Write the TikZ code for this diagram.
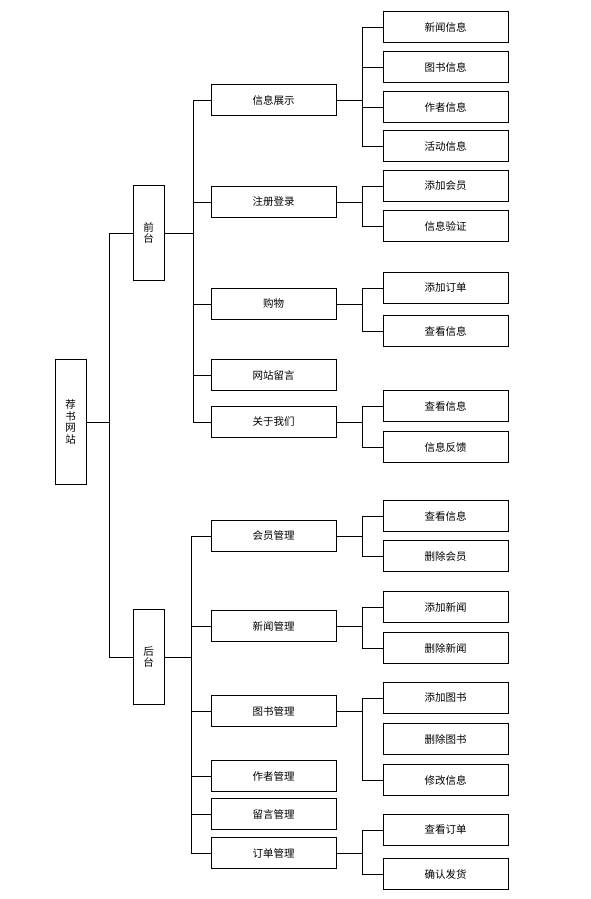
\documentclass[tikz,border=0pt]{standalone}
\usepackage{fontspec}
\newfontfamily\cjk{Noto Sans CJK SC}
\usetikzlibrary{positioning}

\begin{document}
\begin{tikzpicture}[x=1pt, y=-1pt, line width=0.8pt,
                font=\cjk\fontsize{10.5}{14}\selectfont,
                tall node/.style={rectangle,draw,inner sep=0pt,minimum width=31pt,align=center,
                                  font=\cjk\fontsize{10.5}{11.5}\selectfont},
                mid node/.style={rectangle,draw,inner sep=0pt,minimum width=125pt,minimum height=31pt},
                leaf node/.style={rectangle,draw,inner sep=0pt,minimum width=125pt,minimum height=31pt}]

      \useasboundingbox (0,0) rectangle (591,899);

      \node[tall node, minimum height=125pt] (root) at (70.5,422) {荐\\书\\网\\站};
      \node[tall node, minimum height=95pt] (qt) at (148.5,233) {前\\台};
      \node[tall node, minimum height=95pt] (ht) at (148.5,657) {后\\台};

      \node[mid node] (xxzs) at (273.5,100) {信息展示};
      \node[mid node] (zcdl) at (273.5,202) {注册登录};
      \node[mid node] (gw) at (273.5,304) {购物};
      \node[mid node] (wzly) at (273.5,375) {网站留言};
      \node[mid node] (gywm) at (273.5,422) {关于我们};
      \node[mid node] (hygl) at (273.5,536) {会员管理};
      \node[mid node] (xwgl) at (273.5,626) {新闻管理};
      \node[mid node] (tsgl) at (273.5,711) {图书管理};
      \node[mid node] (zzgl) at (273.5,776) {作者管理};
      \node[mid node] (lygl) at (273.5,814) {留言管理};
      \node[mid node] (ddgl) at (273.5,853) {订单管理};

      \node[leaf node] (xwxx) at (445.5,27) {新闻信息};
      \node[leaf node] (tsxx) at (445.5,67) {图书信息};
      \node[leaf node] (zzxx) at (445.5,107) {作者信息};
      \node[leaf node] (hdxx) at (445.5,146) {活动信息};
      \node[leaf node] (tjhy) at (445.5,186) {添加会员};
      \node[leaf node] (xxyz) at (445.5,226) {信息验证};
      \node[leaf node] (tjdd) at (445.5,288) {添加订单};
      \node[leaf node] (ckxx1) at (445.5,331) {查看信息};
      \node[leaf node] (ckxx2) at (445.5,406) {查看信息};
      \node[leaf node] (xxfk) at (445.5,447) {信息反馈};
      \node[leaf node] (ckxx3) at (445.5,516) {查看信息};
      \node[leaf node] (schy) at (445.5,556) {删除会员};
      \node[leaf node] (tjxw) at (445.5,607) {添加新闻};
      \node[leaf node] (scxw) at (445.5,648) {删除新闻};
      \node[leaf node] (tjts) at (445.5,698) {添加图书};
      \node[leaf node] (scts) at (445.5,739) {删除图书};
      \node[leaf node] (xgxx) at (445.5,780) {修改信息};
      \node[leaf node] (ckdd) at (445.5,830) {查看订单};
      \node[leaf node] (qrfh) at (445.5,874) {确认发货};

      \draw (root.east) -- ++(23,0) |- (qt.west);
      \draw (root.east) -- ++(23,0) |- (ht.west);

      \foreach \n in {xxzs,zcdl,gw,wzly,gywm}
        \draw (qt.east) -- ++(29,0) |- (\n.west);
      \foreach \n in {hygl,xwgl,tsgl,zzgl,lygl,ddgl}
        \draw (ht.east) -- ++(27,0) |- (\n.west);

      \foreach \n in {xwxx,tsxx,zzxx,hdxx}
        \draw (xxzs.east) -- ++(26,0) |- (\n.west);
      \foreach \n in {tjhy,xxyz}
        \draw (zcdl.east) -- ++(26,0) |- (\n.west);
      \foreach \n in {tjdd,ckxx1}
        \draw (gw.east) -- ++(26,0) |- (\n.west);
      \foreach \n in {ckxx2,xxfk}
        \draw (gywm.east) -- ++(26,0) |- (\n.west);
      \foreach \n in {ckxx3,schy}
        \draw (hygl.east) -- ++(26,0) |- (\n.west);
      \foreach \n in {tjxw,scxw}
        \draw (xwgl.east) -- ++(26,0) |- (\n.west);
      \foreach \n in {tjts,xgxx}
        \draw (tsgl.east) -- ++(26,0) |- (\n.west);
      \foreach \n in {ckdd,qrfh}
        \draw (ddgl.east) -- ++(26,0) |- (\n.west);
  \end{tikzpicture}
\end{document}
